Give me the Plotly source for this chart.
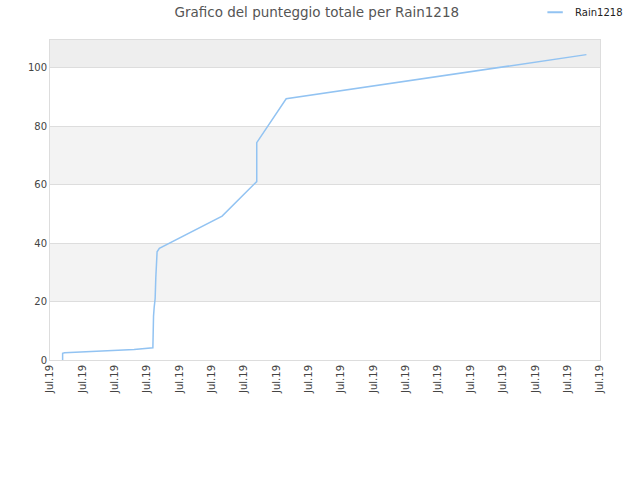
import plotly.graph_objects as go

# position along the time axis (tick units) and total score
x_pos = [0.39, 0.39, 0.45, 1.6, 2.6, 3.18, 3.18, 3.20, 3.22, 3.25, 3.27, 3.29, 3.31, 3.38,
         5.32, 6.39, 6.39, 7.30, 16.58]
score = [0.0, 2.3, 2.5, 3.0, 3.6, 4.2, 12.0, 15.0, 18.0, 21.0, 28.0, 32.0, 37.0, 38.2,
         49.2, 61.0, 74.3, 89.3, 104.4]
tick_pos = list(range(18))
tick_text = ["Jul.19"] * 18
line_col = "#92c3f2"

fig = go.Figure()
fig.add_trace(go.Scatter(x=x_pos, y=score, mode="lines", name="Rain1218",
                         line=dict(color=line_col, width=1.5), showlegend=False))
# legend entry with a short dash like the original
fig.add_trace(go.Scatter(x=[None], y=[None], mode="markers", name="Rain1218",
                         marker=dict(symbol="line-ew", size=11, line=dict(color=line_col, width=2))))

# alternating bands
for lo, hi, col in [(20, 40, "#f3f3f3"), (60, 80, "#f3f3f3"), (100, 109.4, "#eeeeee")]:
    fig.add_shape(type="rect", xref="paper", x0=0, x1=1, y0=lo, y1=hi,
                  fillcolor=col, line_width=0, layer="below")

fig.update_layout(
    width=640, height=480,
    margin=dict(l=50, r=40, t=40, b=120, autoexpand=False),
    paper_bgcolor="white", plot_bgcolor="white",
    font=dict(family="DejaVu Sans", size=10, color="#444"),
    title=dict(text="Grafico del punteggio totale per Rain1218", x=0.495, xanchor="center",
               y=0.974, yanchor="middle", font=dict(size=13.5, color="#555")),
    showlegend=True,
    legend=dict(x=0.882, y=1.087, xanchor="left", yanchor="middle", bgcolor="rgba(0,0,0,0)",
                font=dict(size=10, color="#222")),
)
fig.update_xaxes(range=[0, 17], tickvals=tick_pos, ticktext=tick_text, tickangle=-90,
                 showgrid=False, zeroline=False, showline=True, linecolor="#dddddd",
                 mirror=True, ticks="", tickfont=dict(size=10, color="#444"))
fig.update_yaxes(range=[0, 109.4], tickvals=[0, 20, 40, 60, 80, 100], showgrid=True,
                 gridcolor="#dddddd", zeroline=False, showline=True, linecolor="#dddddd",
                 mirror=True, ticks="", tickfont=dict(size=10, color="#444"))

fig.write_html("out.html", config={"displayModeBar": False},
               post_script="document.body.style.margin='0px';")
